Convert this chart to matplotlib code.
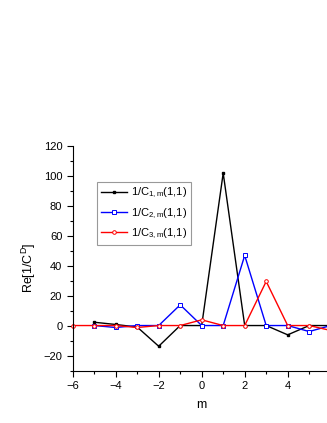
import matplotlib
matplotlib.use('Agg')
import matplotlib.pyplot as plt
from matplotlib.ticker import MultipleLocator

plt.rcParams['font.family'] = ['Liberation Sans', 'DejaVu Sans']
plt.rcParams['mathtext.fontset'] = 'custom'
plt.rcParams['mathtext.rm'] = 'Liberation Sans'
plt.rcParams['mathtext.it'] = 'Liberation Sans'

# data
m1 = [-5, -4, -3, -2, -1, 0, 1, 2, 3, 4, 5, 6]
c1 = [2.2, 0.7, -1, -13.8, 0, 0, 101.6, 0, 0, -6.2, 0, 0]
m2 = [-5, -4, -3, -2, -1, 0, 1, 2, 3, 4, 5, 6]
c2 = [0, -1.3, 0, 0, 13.8, 0, 0, 46.7, 0, 0, -4, 0]
m3 = [-6, -5, -4, -3, -2, -1, 0, 1, 2, 3, 4, 5, 6]
c3 = [0, 0, 0, -1.3, 0, 0, 3.8, 0, 0, 29.4, 0, 0, -3.3]
labels = [r'1/C$_{1,m}$(1,1)', r'1/C$_{2,m}$(1,1)', r'1/C$_{3,m}$(1,1)']

fig = plt.figure(figsize=(3.27, 4.23), dpi=100)
ax = fig.add_axes([0.2223, 0.124, 0.789, 0.532])

ax.plot(m1, c1, color='black', lw=1, marker='s', ms=2, label=labels[0])
ax.plot(m2, c2, color='blue', lw=1, marker='s', ms=2.6, mfc='white', mew=0.7, label=labels[1])
ax.plot(m3, c3, color='red', lw=1, marker='o', ms=2.6, mfc='white', mew=0.7, label=labels[2],
        clip_on=False)

ax.set_xlim(-6, 6)
ax.set_ylim(-30, 120)
ax.xaxis.set_major_locator(MultipleLocator(2))
ax.xaxis.set_minor_locator(MultipleLocator(1))
ax.yaxis.set_major_locator(MultipleLocator(20))
ax.yaxis.set_minor_locator(MultipleLocator(10))
ax.tick_params(which='both', direction='out', labelsize=8, width=0.8)
ax.tick_params(which='major', length=4)
ax.tick_params(which='minor', length=2.5)
ax.spines['top'].set_visible(False)
ax.spines['right'].set_visible(False)
for s in ['left', 'bottom']:
    ax.spines[s].set_linewidth(0.8)

ax.set_xlabel('m', fontsize=9, labelpad=6)
ax.set_ylabel(r'Re[1/C$^{\mathrm{D}}$]', fontsize=9)
ax.yaxis.set_label_coords(-0.134, 0.455)

leg = ax.legend(loc='upper left', bbox_to_anchor=(0.094, 0.838), borderaxespad=0,
                fontsize=8, frameon=True, fancybox=False, edgecolor='gray',
                handlelength=2.4, borderpad=0.35, labelspacing=0.55, handletextpad=0.3)
leg.get_frame().set_linewidth(0.8)

fig.savefig('out.png', dpi=100)
